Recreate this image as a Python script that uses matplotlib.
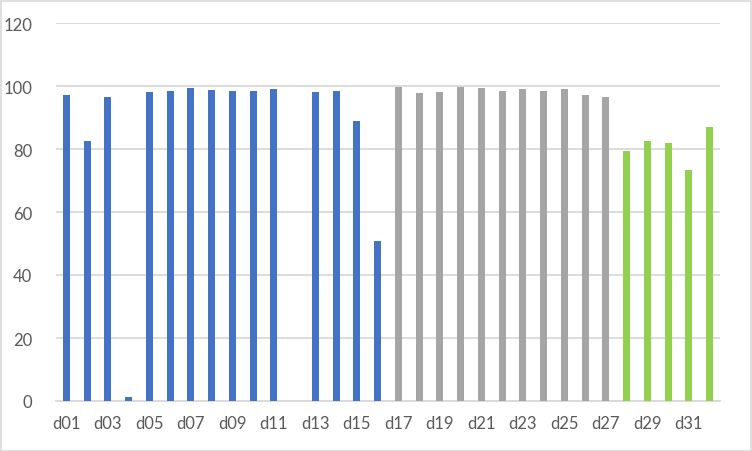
import matplotlib.pyplot as plt
from matplotlib.patches import Rectangle

# Daily values
days = ['d%02d' % i for i in range(1, 33)]
values = [97.0, 82.4, 96.4, 1.3, 98.0, 98.3, 99.3, 98.6, 98.3, 98.3, 99.0, 0.0,
          98.0, 98.3, 88.8, 50.7, 99.6, 97.7, 98.0, 99.6, 99.3, 98.3, 99.0, 98.3,
          99.0, 97.0, 96.4, 79.3, 82.4, 81.8, 73.2, 86.9]
groups = ['blue'] * 16 + ['gray'] * 11 + ['green'] * 5
palette = {'blue': '#4472C4', 'gray': '#A5A5A5', 'green': '#92D050'}

plt.rcParams['font.family'] = ['Lato', 'DejaVu Sans']

fig = plt.figure(figsize=(7.52, 4.52), dpi=100)
ax = fig.add_axes([56 / 752, 50 / 452, 664 / 752, 378 / 452])

x = list(range(len(days)))
colors = [palette[g] for g in groups]
ax.bar(x, values, width=0.34, color=colors, zorder=3)

ax.set_xlim(-0.5, len(days) - 0.5)
ax.set_ylim(0, 120)
ax.set_yticks(range(0, 121, 20))
ax.set_xticks(x[::2])
ax.set_xticklabels(days[::2])
ax.yaxis.grid(True, color='#D9D9D9', linewidth=1.3, zorder=0)
for side in ['top', 'right', 'left']:
    ax.spines[side].set_visible(False)
ax.spines['bottom'].set_color('#D9D9D9')
ax.spines['bottom'].set_linewidth(1.3)
ax.tick_params(length=0, labelsize=12, labelcolor='#595959')
ax.tick_params(axis='y', pad=17)
ax.tick_params(axis='x', pad=10)

# chart border
fig.patches.append(Rectangle((0.5 / 752, 0.5 / 452), 750 / 752, 450 / 452,
                             transform=fig.transFigure, fill=False,
                             edgecolor='#D9D9D9', linewidth=1.2))

fig.savefig('out.png', dpi=100)
